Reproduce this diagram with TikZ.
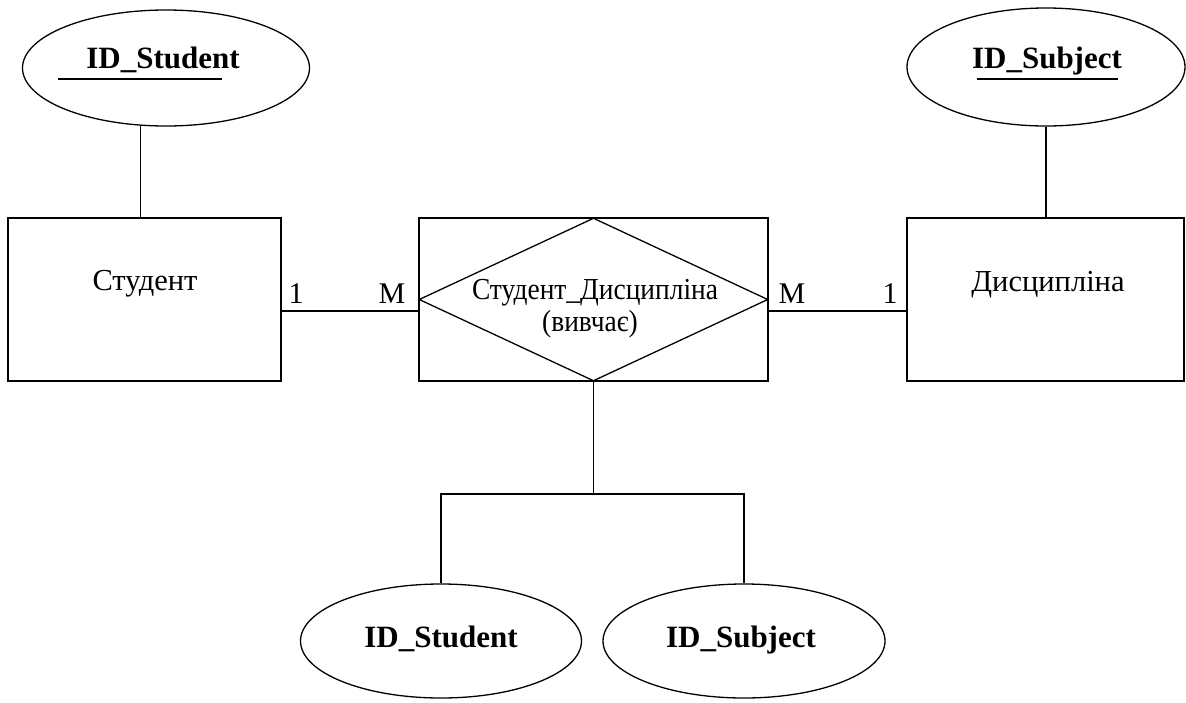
\documentclass[tikz,border=0pt]{standalone}
\usepackage{fontspec}
\setmainfont{Liberation Serif}
\usetikzlibrary{shapes.geometric}
\begin{document}
\begin{tikzpicture}[x=1pt,y=-1pt,
  every path/.style={line width=1.3pt},
  ent/.style={draw, rectangle, minimum width=#1, minimum height=163pt, inner sep=0pt},
  attr/.style={draw, ellipse, inner sep=0pt},
  rel/.style={draw, diamond, inner sep=0pt, minimum width=349pt, minimum height=163pt},
  reg/.style={font=\fontsize{30.5}{34}\selectfont, inner sep=0pt, anchor=base},
  bld/.style={font=\fontsize{31}{34}\selectfont\bfseries, inner sep=0pt, anchor=base},
  card/.style={font=\fontsize{30}{34}\selectfont, inner sep=0pt, anchor=base}]
\useasboundingbox (0,0) rectangle (1186,702);
% entities
\node[ent=273pt] (s) at (144.5,299.5) {};
\node[ent=349pt] (c) at (593.5,299.5) {};
\node[ent=277pt] (d) at (1045.5,299.5) {};
\node[rel] (r) at (593.5,299.5) {};
% attributes
\node[attr, minimum width=287pt, minimum height=116pt] (e1) at (166,68) {};
\node[attr, minimum width=278pt, minimum height=118pt] (e2) at (1046,67) {};
\node[attr, minimum width=281pt, minimum height=114pt] (b1) at (441,641) {};
\node[attr, minimum width=282pt, minimum height=114pt] (b2) at (744,641) {};
% texts
\node[reg] (ts) at (145,290) {Студент};
\node[reg] (td) at (1048,291) {Дисципліна};
\node[reg] (tr1) at (595,299) {\scalebox{0.9}[1]{Студент\_Дисципліна}};
\node[reg] (tr2) at (590,331) {\scalebox{0.9}[1]{(вивчає)}};
\node[bld] (te1) at (163,68) {ID\_Student};
\node[bld] (te2) at (1047,68) {ID\_Subject};
\node[bld] (tb1) at (441,647) {ID\_Student};
\node[bld] (tb2) at (741,647) {ID\_Subject};
\draw[line width=1.2pt] (58,79) -- (222,79);
\draw[line width=1.2pt] (977,79) -- (1118,79);
% cardinalities
\node[card] (c1) at (296,303) {1};
\node[card] (c2) at (392,303) {M};
\node[card] (c3) at (792,303) {M};
\node[card] (c4) at (890,303) {1};
% connectors
\draw (e1.246) -- (e1.246 |- s.north);
\draw (e2.south) -- (e2.south |- d.north);
\draw ([yshift=-11.5pt]s.east) -- ([yshift=-11.5pt]c.west);
\draw ([yshift=-11.5pt]c.east) -- ([yshift=-11.5pt]d.west);
\coordinate (j) at (593.5,494);
\draw (r.south) -- (j);
\draw (b1.north) -- (b1.north |- j) -- (b2.north |- j) -- (b2.north);
\end{tikzpicture}
\end{document}
